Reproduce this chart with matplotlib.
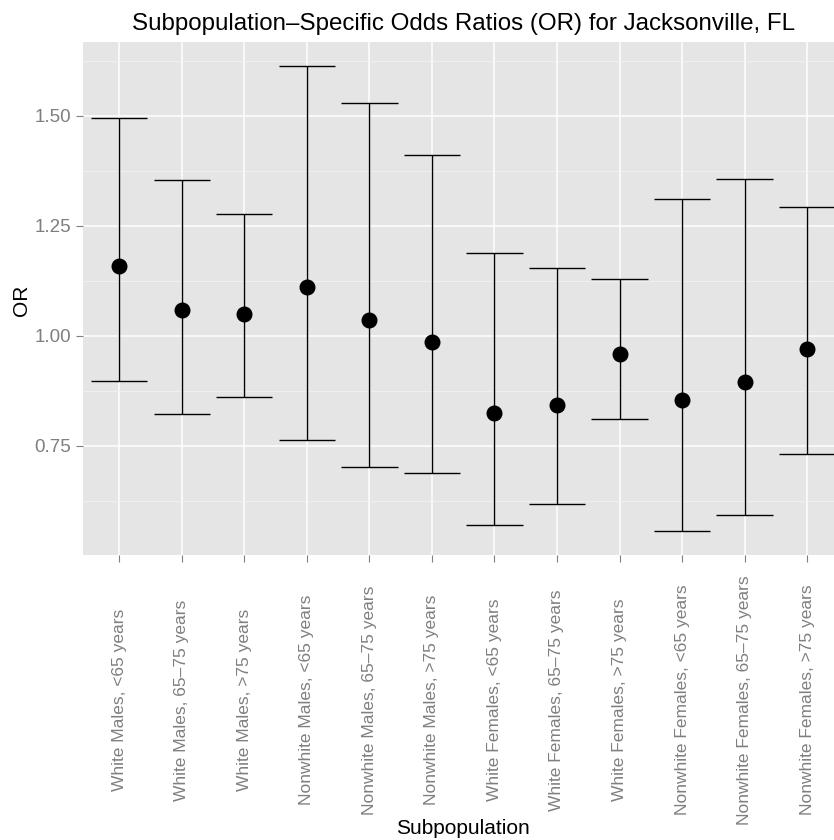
import matplotlib
matplotlib.use("Agg")
from matplotlib import pyplot as plt
from matplotlib import transforms
import numpy as np

plt.rcParams['font.family'] = ['Liberation Sans', 'DejaVu Sans']

groups = ["White Males, <65 years", "White Males, 65\u201375 years", "White Males, >75 years",
          "Nonwhite Males, <65 years", "Nonwhite Males, 65\u201375 years", "Nonwhite Males, >75 years",
          "White Females, <65 years", "White Females, 65\u201375 years", "White Females, >75 years",
          "Nonwhite Females, <65 years", "Nonwhite Females, 65\u201375 years", "Nonwhite Females, >75 years"]
odds_ratio = [1.159, 1.058, 1.049, 1.112, 1.036, 0.986, 0.824, 0.843, 0.958, 0.855, 0.896, 0.971]
ci_lower = [0.898, 0.823, 0.862, 0.764, 0.703, 0.689, 0.570, 0.617, 0.812, 0.556, 0.592, 0.732]
ci_upper = [1.495, 1.355, 1.278, 1.614, 1.530, 1.411, 1.188, 1.155, 1.130, 1.311, 1.357, 1.294]
y_ticks = [0.75, 1.00, 1.25, 1.50]

W, H = 834, 840
fig = plt.figure(figsize=(W/100, H/100), dpi=100)
ax = fig.add_axes([83/W, 1 - 555/H, 1 - 83/W, (555 - 42)/H])

x = np.arange(1, len(groups) + 1)

ax.set_facecolor("#E5E5E5")
for s in ax.spines.values():
    s.set_visible(False)

# grid: minor lines between the major ones
ax.set_yticks(y_ticks)
ax.set_yticks([0.625, 0.875, 1.125, 1.375, 1.625], minor=True)
ax.set_xticks(x)
ax.grid(True, which="major", color="white", lw=1.1)
ax.grid(True, which="minor", axis="y", color="#F2F2F2", lw=0.6)
ax.set_axisbelow(True)

ax.vlines(x, ci_lower, ci_upper, color="black", lw=1.0, zorder=3)
ax.hlines(ci_upper, x - 0.45, x + 0.45, color="black", lw=1.0, zorder=3)
ax.hlines(ci_lower, x - 0.45, x + 0.45, color="black", lw=1.0, zorder=3)
ax.plot(x, odds_ratio, "o", color="black", ms=10.5, zorder=4)

ax.set_xlim(0.42, 12.43)
ax.set_ylim(0.502, 1.668)

ax.set_yticklabels(["%.2f" % v for v in y_ticks], color="#7F7F7F", fontsize=13.5)
ax.set_xticklabels([])
ax.tick_params(axis="both", which="major", color="#7F7F7F", length=5, width=0.8)
ax.tick_params(axis="y", which="minor", length=0)

# rotated x labels, centred vertically below the axis
trans = transforms.blended_transform_factory(ax.transData, fig.transFigure)
for xi, lab in zip(x, groups):
    ax.text(xi, 1 - 700/H, lab, transform=trans, rotation=90, ha="center", va="center",
            color="#7F7F7F", fontsize=12.5, clip_on=False)

fig.text(22/W, 1 - 300/H, "OR", rotation=90, ha="center", va="center", fontsize=15)
fig.text(463/W, 1 - 828/H, "Subpopulation", ha="center", va="center", fontsize=15)
fig.text(463/W, 1 - 24/H, "Subpopulation\u2013Specific Odds Ratios (OR) for Jacksonville, FL",
         ha="center", va="center", fontsize=17.4)

fig.savefig("out.png", dpi=100)
